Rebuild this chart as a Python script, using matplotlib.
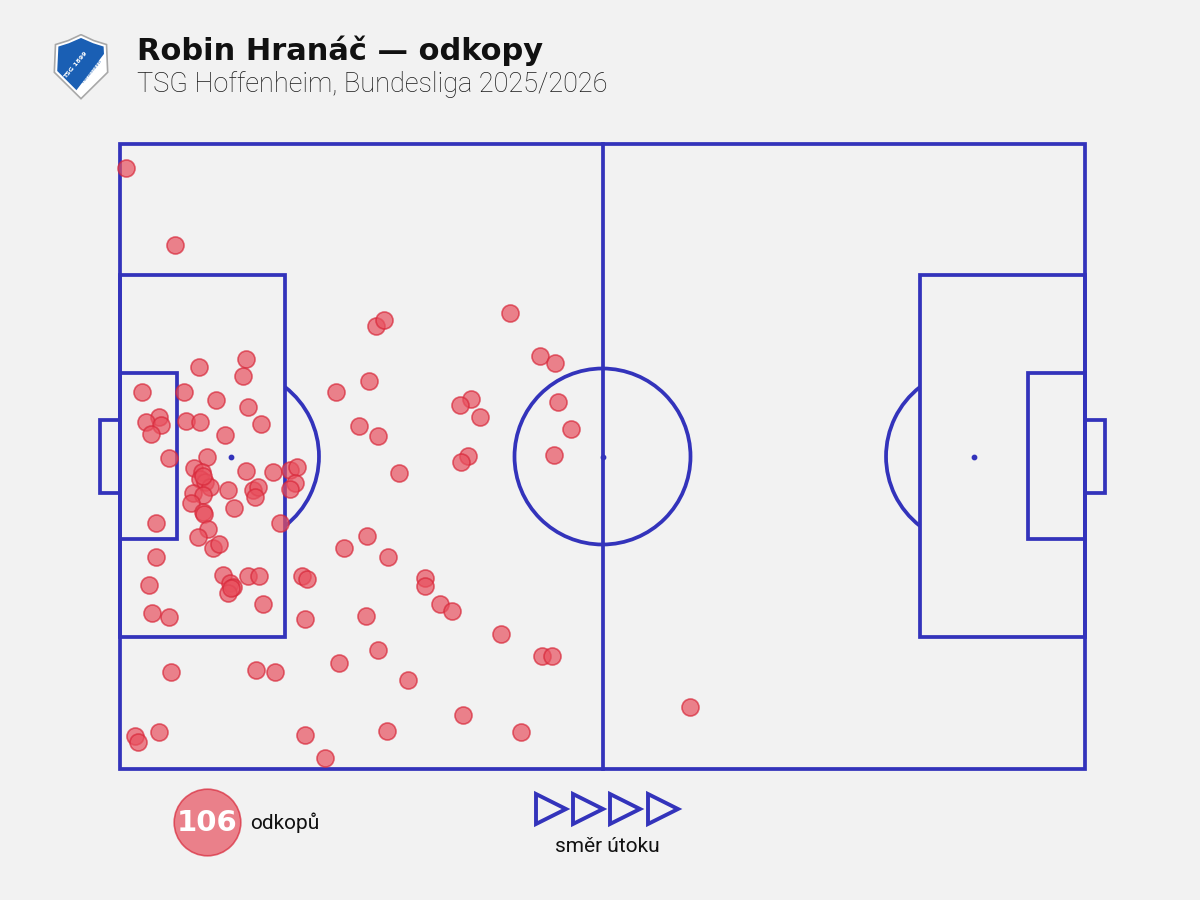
import matplotlib.pyplot as plt
import matplotlib.patches as mpatches
import numpy as np

# clearance locations, Opta-style pitch coordinates (0-100, attack to the right)
clear_x = [0.6, 5.7, 26.5, 27.4, 40.4, 43.5, 45.1, 13.1, 8.2, 12.7,
           25.8, 22.4, 2.3, 6.6, 9.9, 13.3, 36.4, 35.2, 37.3, 45.4,
           46.7, 4.0, 2.7, 4.2, 6.8, 8.3, 14.6, 3.2, 10.9, 24.8,
           26.7, 5.1, 9.0, 45.0, 36.1, 35.3, 7.7, 8.5, 8.3, 8.8,
           9.3, 7.6, 8.6, 7.4, 8.6, 8.7, 11.2, 13.1, 15.9, 17.6,
           18.3, 18.1, 17.6, 13.8, 14.3, 14.0, 11.8, 28.9, 3.7, 16.6,
           9.1, 8.1, 25.6, 9.6, 10.3, 23.2, 3.7, 27.8, 10.7, 13.3,
           14.4, 11.4, 11.7, 11.2, 14.8, 18.9, 19.4, 3.0, 31.6, 31.6,
           33.2, 34.4, 3.3, 5.1, 19.2, 25.5, 39.5, 26.7, 43.7, 44.8,
           22.7, 5.3, 14.1, 16.1, 29.8, 59.1, 35.5, 1.6, 1.9, 4.0,
           19.2, 27.7, 41.6, 21.2, 11.5, 8.6]
clear_y = [96.2, 83.8, 70.9, 71.8, 73.0, 66.1, 65.0, 65.6, 64.3, 62.9,
           62.1, 60.3, 60.3, 60.3, 59.0, 57.9, 59.2, 58.2, 56.3, 58.7,
           54.4, 56.3, 55.5, 55.0, 55.7, 55.5, 55.2, 53.6, 53.4, 54.9,
           53.3, 49.8, 49.9, 50.2, 50.1, 49.1, 48.2, 47.5, 46.4, 45.9,
           45.1, 44.2, 43.8, 42.6, 41.1, 40.8, 44.6, 47.7, 47.5, 47.8,
           48.3, 45.8, 44.8, 44.6, 45.1, 43.5, 41.8, 47.4, 39.4, 39.4,
           38.4, 37.1, 37.3, 35.4, 36.0, 35.4, 33.9, 33.9, 31.0, 30.9,
           30.9, 29.8, 29.1, 28.2, 26.4, 30.9, 30.4, 29.4, 30.6, 29.3,
           26.4, 25.3, 25.0, 24.3, 24.0, 24.5, 21.6, 19.0, 18.1, 18.1,
           17.0, 15.5, 15.8, 15.5, 14.2, 9.9, 8.6, 5.3, 4.3, 5.9,
           5.4, 6.1, 5.9, 1.8, 29.0, 46.9]

title = "Robin Hranáč — odkopy"
subtitle = "TSG Hoffenheim, Bundesliga 2025/2026"
count_label = "odkopů"
arrow_label = "směr útoku"

BG = "#f2f2f2"
LINE = "#3333bb"
DOT_FACE = "#e8505e"
DOT_EDGE = "#d8283a"

fig = plt.figure(figsize=(12, 9), dpi=100, facecolor=BG)

# one axes over the whole figure; 1 unit in x = 9.65 px, in y = 6.25 px
sx, sy = 9.65, 6.25
ax = fig.add_axes([0, 0, 1, 1])
ax.set_facecolor(BG)
ax.set_xlim(-120 / sx, (1200 - 120) / sx)
ax.set_ylim((769 - 900) / sy, 769 / sy)
ax.axis("off")

lw = 2.7


def rect(x0, y0, x1, y1):
    ax.add_patch(mpatches.Rectangle((x0, y0), x1 - x0, y1 - y0, fill=False,
                                    ec=LINE, lw=lw, joinstyle="miter", zorder=1))


rect(0, 0, 100, 100)
ax.plot([50, 50], [0, 100], color=LINE, lw=lw, zorder=1)
# penalty areas, six-yard boxes, goals
rect(0, 21.1, 17.1, 79.0)
rect(82.9, 21.1, 100, 79.0)
rect(0, 36.8, 5.9, 63.4)
rect(94.1, 36.8, 100, 63.4)
rect(-2.1, 44.2, 0, 55.8)
rect(100, 44.2, 102.1, 55.8)

r_px = 88
ax.add_patch(mpatches.Ellipse((50, 50), 2 * r_px / sx, 2 * r_px / sy,
                              fill=False, ec=LINE, lw=lw, zorder=1))
# penalty arcs (angles in data space)
dx_px = (17.1 - 11.5) * sx
dy_px = np.sqrt(r_px ** 2 - dx_px ** 2)
ang = np.degrees(np.arctan2(dy_px / sy, dx_px / sx))
ax.add_patch(mpatches.Arc((11.5, 50), 2 * r_px / sx, 2 * r_px / sy,
                          theta1=-ang, theta2=ang, ec=LINE, lw=lw, zorder=1))
ax.add_patch(mpatches.Arc((88.5, 50), 2 * r_px / sx, 2 * r_px / sy,
                          theta1=180 - ang, theta2=180 + ang, ec=LINE, lw=lw, zorder=1))
ax.scatter([11.5, 50, 88.5], [50, 50, 50], s=10, color=LINE, zorder=1)

ax.scatter(clear_x, clear_y, s=150, facecolor=DOT_FACE, edgecolor=DOT_EDGE,
           linewidth=1.2, alpha=0.7, zorder=3)

# count legend
ax.scatter([(207 - 120) / sx], [(769 - 822) / sy], s=2300, facecolor=DOT_FACE,
           edgecolor=DOT_EDGE, linewidth=1.2, alpha=0.7, zorder=3)
fig.text(207 / 1200, 1 - 823 / 900, str(len(clear_x)), color="white", fontsize=21,
         fontweight="heavy", family="DejaVu Sans", ha="center", va="center", zorder=5)
fig.text(250 / 1200, 1 - 823 / 900, count_label, color="#111111", fontsize=15,
         family="Roboto", ha="left", va="center")

# direction of attack arrows
for cx in [550, 587, 624, 662]:
    tri = np.array([[cx - 14, 794], [cx + 16, 809], [cx - 14, 824]])
    xs = (tri[:, 0] - 120) / sx
    ys = (769 - tri[:, 1]) / sy
    ax.add_patch(mpatches.Polygon(np.column_stack([xs, ys]), closed=True, fill=False,
                                  ec=LINE, lw=2.8, joinstyle="miter"))
fig.text(607 / 1200, 1 - 846 / 900, arrow_label, color="#111111", fontsize=15,
         family="Roboto", ha="center", va="center")

# titles
fig.text(137 / 1200, 1 - 51 / 900, title, fontsize=22, fontweight="heavy",
         family="DejaVu Sans", color="#111111", ha="left", va="center")
fig.text(137 / 1200, 1 - 85 / 900, subtitle, fontsize=19.5, fontweight="light",
         family="Roboto", color="#1a1a1a", ha="left", va="center")

# club crest (simplified shield)
lax = fig.add_axes([52 / 1200, 1 - 100 / 900, 58 / 1200, 66 / 900])
lax.set_xlim(0, 1)
lax.set_ylim(0, 1)
lax.axis("off")
shield = [(0.06, 0.84), (0.28, 0.9), (0.5, 0.99), (0.72, 0.9), (0.94, 0.84),
          (0.96, 0.42), (0.5, 0.02), (0.04, 0.42)]
lax.add_patch(mpatches.Polygon(shield, closed=True, fc="white", ec="#a8a8a8", lw=1.2))
inner = mpatches.Polygon([(0.11, 0.81), (0.29, 0.86), (0.5, 0.94), (0.71, 0.86),
                          (0.89, 0.81), (0.91, 0.44), (0.5, 0.08), (0.09, 0.44)],
                         closed=True, transform=lax.transData)
blue = mpatches.Polygon([(0.3, 0), (0, 0), (0, 1), (1, 1), (1, 0.82)], closed=True,
                        fc="#1a5fb4", ec="none")
lax.add_patch(blue)
blue.set_clip_path(inner)
lax.text(0.4, 0.52, "TSG 1899", rotation=50, color="white", fontsize=4.5,
         fontweight="bold", ha="center", va="center")
lax.text(0.68, 0.44, "Hoffenheim", rotation=50, color="#1a5fb4", fontsize=3.5,
         ha="center", va="center")

fig.savefig("out.png", dpi=100, facecolor=BG)
